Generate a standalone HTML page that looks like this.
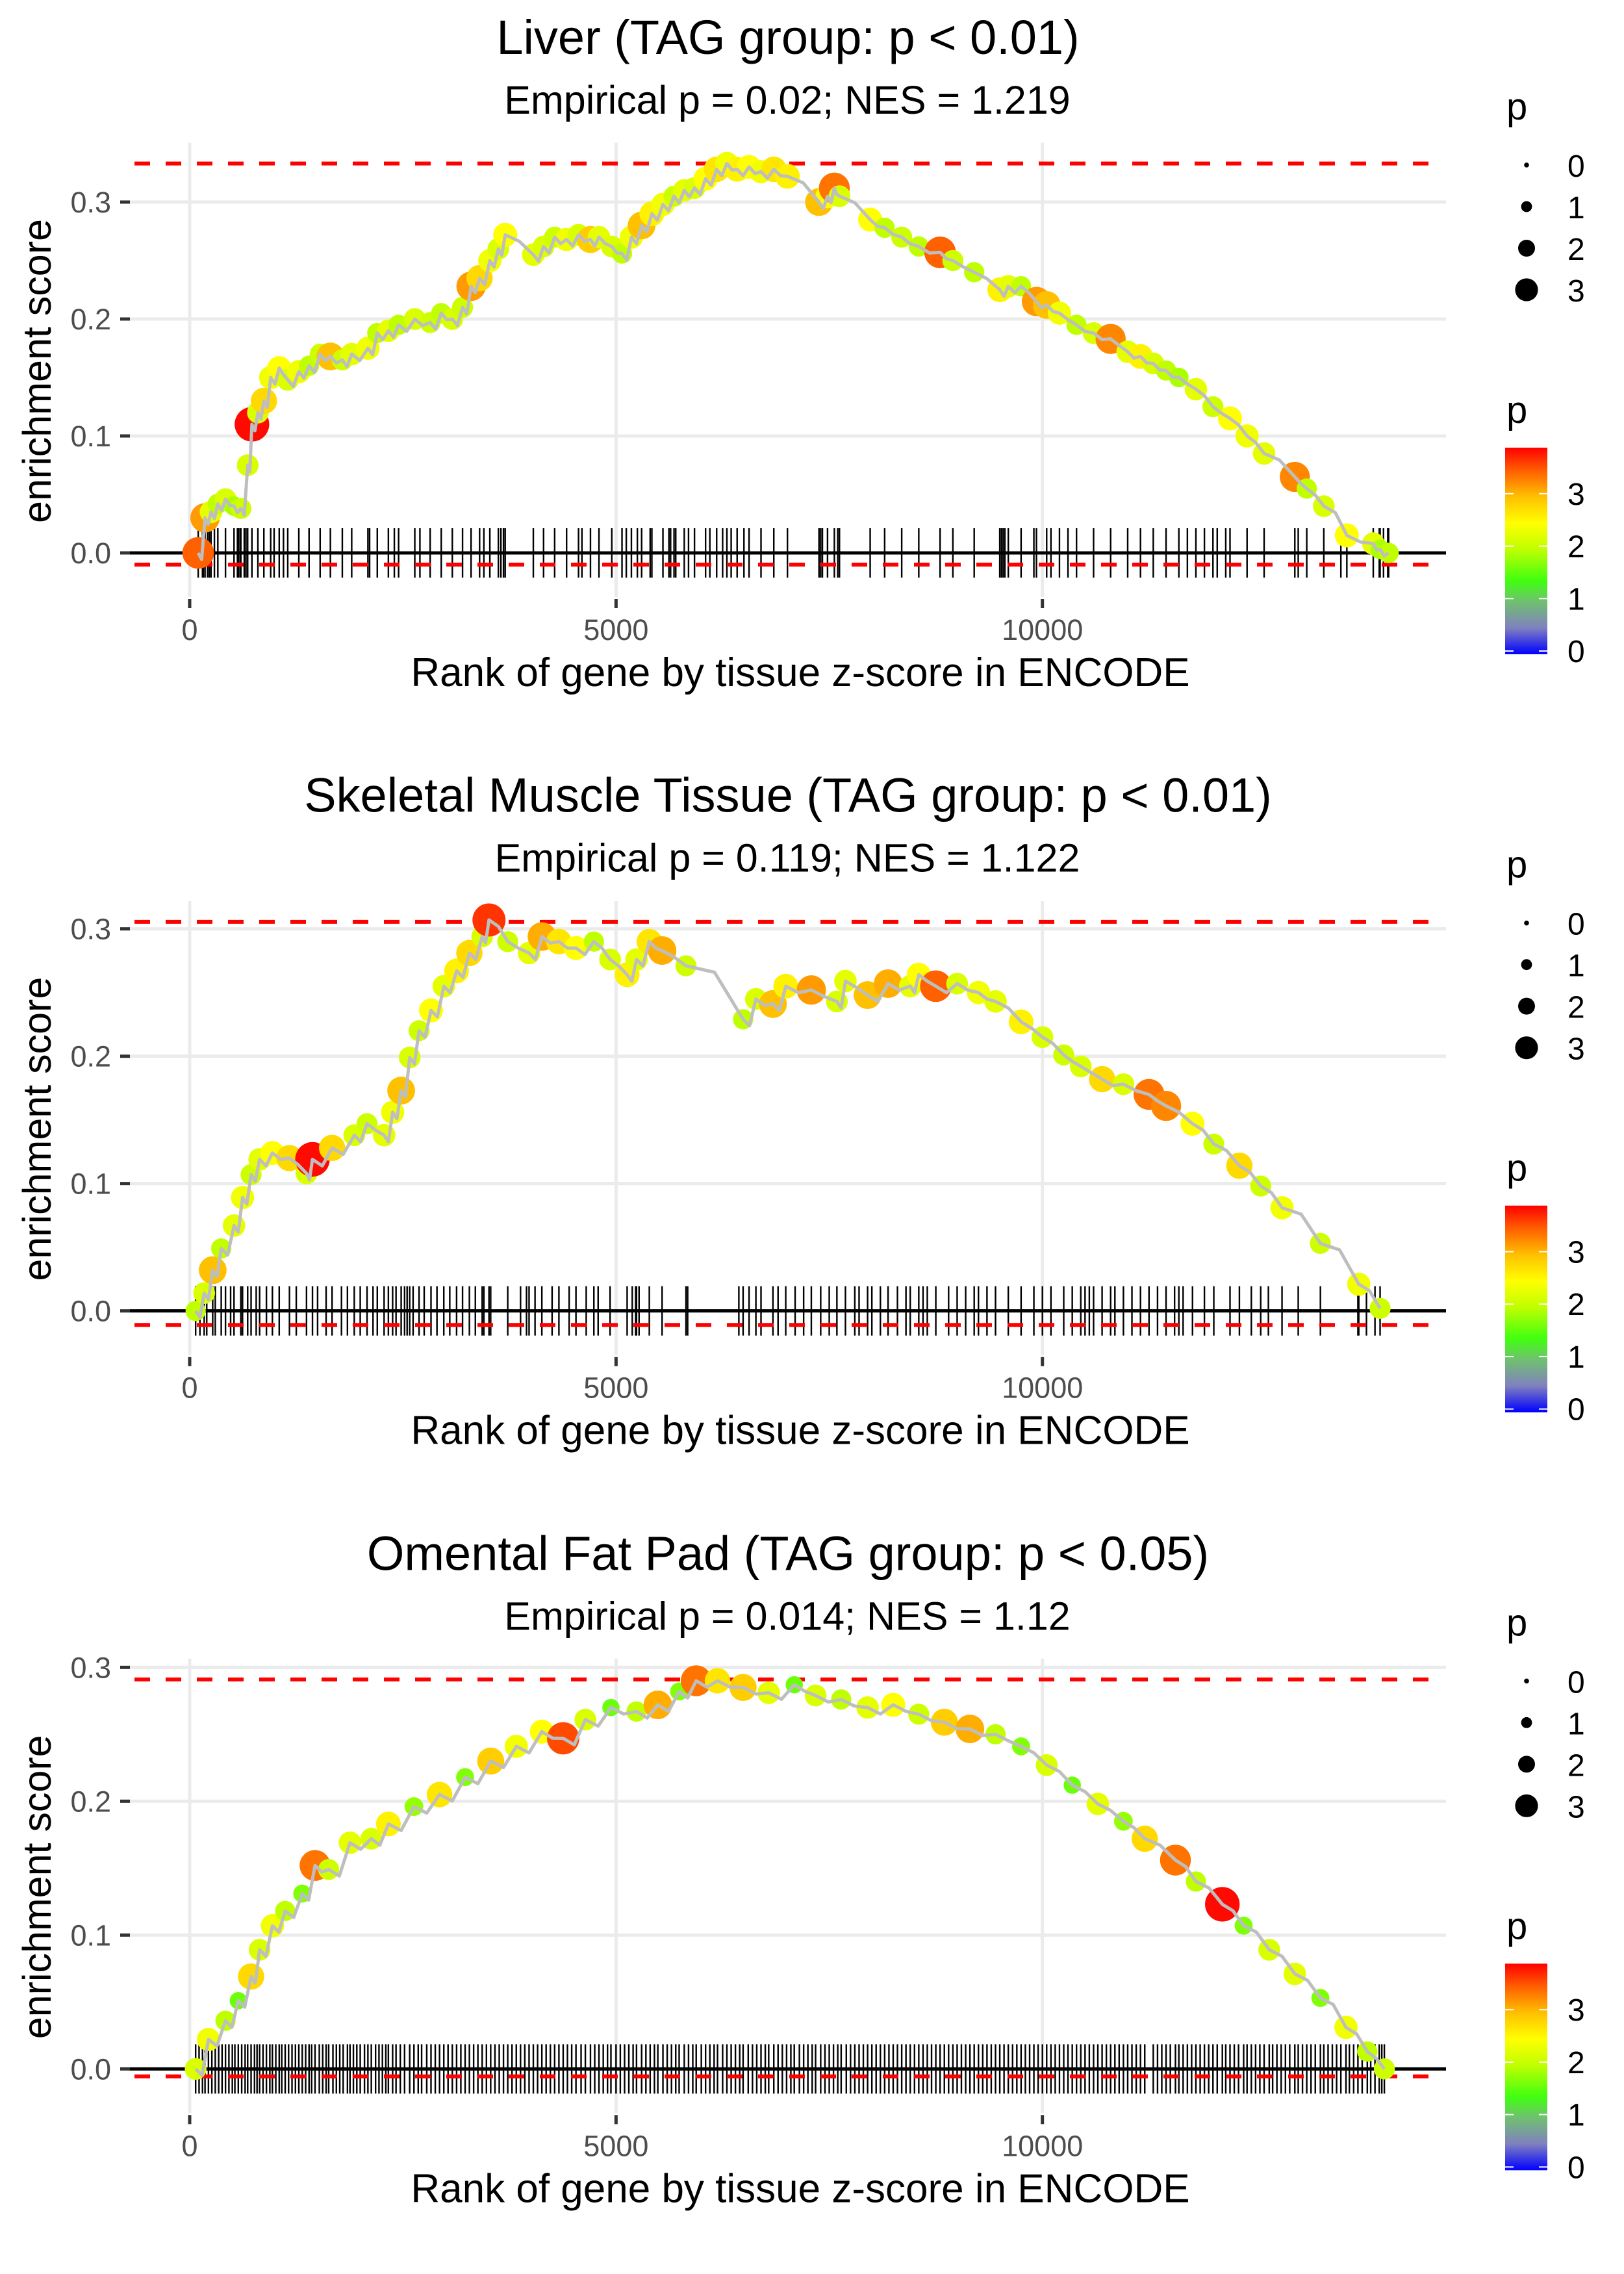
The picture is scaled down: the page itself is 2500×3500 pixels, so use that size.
<!DOCTYPE html>
<html><head><meta charset="utf-8">
<style>
html,body{margin:0;padding:0;background:#fff;}
svg{display:block;font-family:"Liberation Sans",Arial,sans-serif;}
</style></head>
<body>
<svg id="chart" xmlns="http://www.w3.org/2000/svg" width="2500" height="3500" viewBox="0 0 2500 3500">
<defs>
<linearGradient id="pgrad" x1="0" y1="1" x2="0" y2="0">
<stop offset="0" stop-color="#0000ff"/>
<stop offset="0.127" stop-color="#8080c0"/>
<stop offset="0.254" stop-color="#70c070"/>
<stop offset="0.355" stop-color="#40ff10"/>
<stop offset="0.508" stop-color="#c0ff00"/>
<stop offset="0.635" stop-color="#ffff00"/>
<stop offset="0.762" stop-color="#ffc000"/>
<stop offset="0.888" stop-color="#ff6000"/>
<stop offset="1" stop-color="#ff0000"/>
</linearGradient>
</defs>
</svg>
<script>
// ---------- data ----------
const titles = ["Liver (TAG group: p < 0.01)","Skeletal Muscle Tissue (TAG group: p < 0.01)","Omental Fat Pad (TAG group: p < 0.05)"];
const subtitles = ["Empirical p = 0.02; NES = 1.219","Empirical p = 0.119; NES = 1.122","Empirical p = 0.014; NES = 1.12"];
const xTicks = [0,5000,10000];
const xTickLabels = ["0","5000","10000"];
const yTicks = [0,0.1,0.2,0.3];
const yTickLabels = ["0.0","0.1","0.2","0.3"];
const maxES = [0.333,0.3055,0.291];
const minES = [-0.010,-0.011,-0.0056];

const rank1 = [100,180,250,330,420,520,600,680,730,800,870,950,1050,1150,1280,1400,1530,1650,1790,1900,2090,2200,2330,2450,2640,2820,2950,3080,3200,3300,3400,3520,3620,3700,4030,4150,4280,4420,4560,4700,4800,4950,5070,5180,5300,5420,5550,5680,5800,5920,6050,6180,6300,6420,6560,6700,6850,7010,7380,7480,7560,7620,7980,8150,8350,8550,8800,8950,9200,9500,9600,9750,9930,10050,10200,10400,10600,10800,11000,11150,11300,11450,11600,11800,12000,12200,12400,12600,12960,13100,13300,13570,13880,13960,14060];
const es1 = [0.0,0.03,0.035,0.042,0.046,0.04,0.038,0.075,0.11,0.12,0.13,0.15,0.158,0.148,0.155,0.16,0.17,0.168,0.165,0.17,0.175,0.188,0.19,0.195,0.2,0.197,0.205,0.2,0.21,0.228,0.235,0.25,0.26,0.272,0.255,0.262,0.27,0.268,0.272,0.268,0.27,0.262,0.256,0.27,0.28,0.29,0.298,0.305,0.31,0.312,0.32,0.328,0.333,0.328,0.33,0.326,0.328,0.322,0.3,0.305,0.312,0.305,0.285,0.278,0.27,0.262,0.257,0.25,0.24,0.225,0.228,0.228,0.215,0.212,0.205,0.195,0.188,0.183,0.172,0.168,0.162,0.156,0.15,0.14,0.125,0.115,0.1,0.085,0.065,0.055,0.04,0.015,0.008,0.003,0.0];
const p1 = [3.5,3.2,2.3,2.0,2.2,1.9,2.1,2.2,3.9,2.2,2.8,2.4,2.5,2.2,2.4,2.0,2.1,3.0,2.1,2.3,2.4,2.0,2.3,2.0,2.2,2.1,2.0,2.2,2.1,3.2,2.8,2.4,2.2,2.5,2.3,2.2,2.1,2.4,2.2,2.9,2.3,2.2,2.0,2.4,3.0,2.6,2.4,2.1,2.3,2.2,2.5,2.7,2.4,2.6,2.5,2.4,2.7,2.6,3.0,2.5,3.4,2.2,2.5,2.0,2.1,2.0,3.5,2.1,2.0,2.6,2.3,2.0,3.2,3.0,2.4,2.0,2.2,3.3,2.3,2.6,2.2,2.0,1.9,2.3,2.1,2.5,2.4,2.3,3.3,2.0,2.2,2.5,2.3,1.9,2.0];
const rugExtra1 = [150,160,210,230,290,560,570,590,640,660,990,1100,2110,2400,2700,3450,3650,3680,4600,5120,5250,5400,5620,5640,5700,5850,6100,6250,6350,6500,7400,7420,7600,9520,9540,9560,9900,10100,10300,11700,11900,12050,12150,13000,13500,13950,14000,14050];

const rank2 = [70,170,270,370,520,620,720,820,970,1170,1370,1440,1670,1930,2080,2280,2380,2480,2580,2690,2830,2980,3130,3280,3430,3510,3730,3980,4130,4330,4530,4740,4930,5130,5240,5390,5540,5820,6490,6640,6840,6990,7290,7590,7690,7950,8190,8450,8550,8750,9000,9250,9450,9750,10000,10250,10450,10700,10950,11250,11450,11760,12010,12310,12560,12810,13260,13710,13960];
const es2 = [0.0,0.014,0.032,0.049,0.067,0.089,0.107,0.119,0.124,0.12,0.108,0.119,0.128,0.138,0.147,0.138,0.156,0.173,0.199,0.22,0.236,0.255,0.267,0.281,0.294,0.307,0.29,0.281,0.294,0.29,0.285,0.29,0.276,0.264,0.276,0.29,0.283,0.271,0.229,0.245,0.241,0.255,0.252,0.243,0.259,0.248,0.257,0.255,0.264,0.255,0.257,0.25,0.243,0.227,0.215,0.201,0.192,0.182,0.178,0.17,0.161,0.147,0.131,0.114,0.098,0.081,0.053,0.021,0.002];
const p2 = [2.0,2.2,3.0,2.0,2.3,2.4,2.1,2.3,2.5,2.8,2.2,3.9,2.8,2.2,2.1,2.3,2.4,3.0,2.2,2.1,2.5,2.3,2.6,2.8,2.2,3.7,2.1,2.3,3.1,2.7,2.5,2.0,2.2,2.6,2.3,2.7,3.1,2.1,2.0,2.2,3.0,2.6,3.2,2.2,2.3,3.0,3.1,2.3,2.5,3.5,2.2,2.4,2.3,2.6,2.2,2.1,2.2,2.8,2.2,3.4,3.3,2.5,2.1,2.8,2.1,2.4,2.1,2.4,2.1];
const rugExtra2 = [120,200,300,420,480,600,680,780,900,1050,1250,1500,1600,1780,1850,2000,2150,2200,2330,2420,2520,2550,2620,2750,2900,3050,3200,3350,3450,3530,3880,3950,4050,4250,4450,4650,4790,5190,5230,5270,5840,6440,6560,6700,6900,7100,7200,7400,7500,7800,7850,8000,8100,8300,8400,8600,8650,8900,9100,9200,9350,9600,9900,10100,10350,10500,10550,10600,10800,10850,11050,11150,11350,11550,11600,11650,11900,12200,12450,12650,13000,13700,13800,13900];

const rank3 = [70,220,420,570,720,820,970,1120,1320,1470,1630,1880,2130,2330,2630,2930,3230,3530,3830,4130,4380,4640,4940,5240,5490,5740,5940,6190,6490,6790,7090,7340,7640,7950,8250,8550,8850,9150,9450,9750,10050,10350,10650,10950,11200,11560,11800,12110,12360,12660,12960,13260,13560,13810,14010];
const es3 = [0,0.022,0.036,0.051,0.069,0.089,0.107,0.118,0.131,0.152,0.149,0.169,0.172,0.183,0.196,0.205,0.218,0.23,0.241,0.252,0.247,0.261,0.27,0.267,0.272,0.282,0.29,0.29,0.285,0.281,0.287,0.279,0.276,0.27,0.272,0.265,0.259,0.254,0.25,0.241,0.227,0.212,0.198,0.185,0.172,0.156,0.14,0.123,0.107,0.089,0.071,0.053,0.031,0.013,0];
const p3 = [2.2,2.4,2.0,1.6,2.8,2.2,2.4,2.0,1.7,3.4,2.1,2.3,2.2,2.6,1.8,2.7,1.7,2.9,2.4,2.5,3.6,2.2,1.6,2.0,3.1,1.7,3.4,2.7,2.9,2.3,1.6,2.2,2.0,2.3,2.5,2.1,2.9,3.1,2.0,1.7,2.2,1.6,2.3,1.8,2.8,3.4,2.0,3.9,1.7,2.2,2.3,1.7,2.4,2.0,2.1];
const rugExtra3 = [110,150,180,260,300,340,380,460,500,530,610,650,680,760,790,860,900,940,1010,1050,1080,1160,1200,1240,1280,1360,1400,1430,1520,1560,1600,1680,1720,1760,1800,1850,1920,1960,2000,2050,2090,2180,2220,2260,2300,2380,2420,2470,2520,2580,2680,2720,2780,2830,2880,2980,3030,3080,3130,3180,3280,3330,3380,3430,3480,3580,3630,3680,3730,3780,3880,3930,3980,4030,4080,4180,4230,4280,4330,4430,4480,4530,4590,4700,4750,4800,4850,4900,5000,5050,5100,5150,5200,5300,5350,5400,5450,5550,5600,5650,5700,5800,5850,5900,6000,6050,6100,6150,6250,6300,6350,6400,6450,6550,6600,6650,6700,6750,6850,6900,6950,7000,7050,7150,7200,7250,7300,7400,7450,7500,7550,7600,7700,7750,7800,7850,7900,8000,8050,8100,8150,8200,8300,8350,8400,8450,8500,8600,8650,8700,8750,8800,8900,8950,9000,9050,9100,9200,9250,9300,9350,9400,9500,9550,9600,9650,9700,9800,9850,9900,9950,10000,10100,10150,10200,10250,10300,10400,10450,10500,10550,10600,10700,10750,10800,10850,10900,11000,11050,11100,11150,11300,11350,11400,11450,11500,11600,11650,11700,11750,11850,11900,11950,12000,12050,12150,12200,12250,12300,12400,12450,12500,12550,12600,12700,12750,12800,12850,12900,13000,13050,13100,13150,13200,13300,13350,13400,13450,13500,13600,13650,13700,13750,13850,13900,13950,13980];

const ranks = [rank1, rank2, rank3];
const esVals = [es1, es2, es3];
const pVals = [p1, p2, p3];
const rugExtras = [rugExtra1, rugExtra2, rugExtra3];
const legendSizes = [0,1,2,3];
const colorbarTicks = [0,1,2,3];

// ---------- layout ----------
const svg = document.getElementById('chart');
const NS = 'http://www.w3.org/2000/svg';
const PANEL_H = 3500/3;
const PX0 = 200, PX1 = 2226;
const zeroY = [851, 851 + PANEL_H, 851 + 2*PANEL_H];
const unitY = [1800, 1960, 2060];
const pMax = 3.94;

function xs(r){ return 292 + r * 0.13127; }
function make(tag, attrs, parent){
  const el = document.createElementNS(NS, tag);
  for (const k in attrs) el.setAttribute(k, attrs[k]);
  (parent || svg).appendChild(el);
  return el;
}
const stops = [[0,[0,0,255]],[0.5,[128,128,192]],[1,[112,192,112]],[1.4,[64,255,16]],[2,[192,255,0]],[2.5,[255,255,0]],[3,[255,192,0]],[3.5,[255,96,0]],[3.94,[255,0,0]]];
function pColor(p){
  if (p <= stops[0][0]) return 'rgb(0,0,255)';
  for (let i=1;i<stops.length;i++){
    if (p <= stops[i][0]){
      const a=stops[i-1], b=stops[i], t=(p-a[0])/(b[0]-a[0]);
      const c=a[1].map((v,j)=>Math.round(v+(b[1][j]-v)*t));
      return 'rgb('+c.join(',')+')';
    }
  }
  return 'rgb(255,0,0)';
}
function pRadius(p){ return 4 + 5.8*p; }
function legendRadius(p){ return 3.8 + 4.6*p; }

for (let k=0;k<3;k++){
  const off = k*PANEL_H;
  const z = zeroY[k], u = unitY[k];
  const ys = v => z - v*u;
  const g = make('g', {});
  
  

  let t = make('text', {x:1213, y:83+off, 'font-size':74, 'text-anchor':'middle', fill:'#000'}, g);
  t.textContent = titles[k];
  
  
  t = make('text', {x:1212, y:175+off, 'font-size':61, 'text-anchor':'middle', fill:'#000'}, g);
  t.textContent = subtitles[k];
  
  

  const gridTop = ys(maxES[k]) - 32;
  const gridBot = z + 68;
  for (let i=0;i<yTicks.length;i++){
    const l = make('line', {x1:PX0, x2:PX1, y1:ys(yTicks[i]), y2:ys(yTicks[i]), stroke:'#ebebeb', 'stroke-width':5}, g);
    
    
  }
  for (let i=0;i<xTicks.length;i++){
    const l = make('line', {x1:xs(xTicks[i]), x2:xs(xTicks[i]), y1:gridTop, y2:gridBot, stroke:'#ebebeb', 'stroke-width':5}, g);
    
    
  }
  for (let i=0;i<yTicks.length;i++){
    const tk = make('line', {x1:185, x2:200, y1:ys(yTicks[i]), y2:ys(yTicks[i]), stroke:'#333', 'stroke-width':5}, g);
    
    
    const lb = make('text', {x:171, y:ys(yTicks[i])+16, 'font-size':45, 'text-anchor':'end', fill:'#4d4d4d'}, g);
    lb.textContent = yTickLabels[i];
    
    
  }
  for (let i=0;i<xTicks.length;i++){
    const tk = make('line', {x1:xs(xTicks[i]), x2:xs(xTicks[i]), y1:z+71, y2:z+85, stroke:'#333', 'stroke-width':5}, g);
    
    
    const lb = make('text', {x:xs(xTicks[i]), y:z+134, 'font-size':45, 'text-anchor':'middle', fill:'#4d4d4d'}, g);
    lb.textContent = xTickLabels[i];
    
    
  }
  t = make('text', {x:1232, y:z+205, 'font-size':62, 'text-anchor':'middle', fill:'#000'}, g);
  t.textContent = 'Rank of gene by tissue z-score in ENCODE';
  
  
  t = make('text', {x:0, y:0, 'font-size':61, 'text-anchor':'middle', fill:'#000', transform:'translate(78,'+(z-280)+') rotate(-90)'}, g);
  t.textContent = 'enrichment score';
  
  

  let l = make('line', {x1:PX0, x2:PX1, y1:z, y2:z, stroke:'#000', 'stroke-width':5}, g);
  
  
  const allR = ranks[k].concat(rugExtras[k]);
  for (let i=0;i<allR.length;i++){
    const r = make('line', {x1:xs(allR[i]), x2:xs(allR[i]), y1:z-38, y2:z+38, stroke:'#000', 'stroke-width':2.4}, g);
    
    
  }
  l = make('line', {x1:PX0+7, x2:PX1-10, y1:ys(maxES[k]), y2:ys(maxES[k]), stroke:'#ff0000', 'stroke-width':6, 'stroke-dasharray':'24 24'}, g);
  
  
  l = make('line', {x1:PX0+7, x2:PX1-10, y1:ys(minES[k]), y2:ys(minES[k]), stroke:'#ff0000', 'stroke-width':6, 'stroke-dasharray':'24 24'}, g);
  
  

  const R = ranks[k], E = esVals[k], P = pVals[k];
  for (let i=0;i<R.length;i++){
    const c = make('circle', {cx:xs(R[i]), cy:ys(E[i]), r:pRadius(P[i]), fill:pColor(P[i])}, g);
    
    
  }
  let d = '';
  for (let i=0;i<R.length;i++){
    d += (i? 'L':'M') + xs(R[i]).toFixed(1) + ',' + ys(E[i]).toFixed(1);
    if (i < R.length-1){
      const xm = (xs(R[i]) + xs(R[i+1]))/2;
      d += 'L' + xm.toFixed(1) + ',' + (ys(E[i]) + 10).toFixed(1);
    }
  }
  const path = make('path', {d:d, fill:'none', stroke:'#bebebe', 'stroke-width':5, 'stroke-linejoin':'round'}, g);
  
  

  t = make('text', {x:2319, y:184+off, 'font-size':58, fill:'#000'}, g);
  t.textContent = 'p';
  
  
  for (let i=0;i<legendSizes.length;i++){
    const cy = 254 + i*64 + off;
    const c = make('circle', {cx:2350, cy:cy, r:legendRadius(legendSizes[i]), fill:'#000'}, g);
    
    
    const lb = make('text', {x:2413, y:cy+18, 'font-size':48, fill:'#000'}, g);
    lb.textContent = String(legendSizes[i]);
    
    
  }
  t = make('text', {x:2319, y:651+off, 'font-size':58, fill:'#000'}, g);
  t.textContent = 'p';
  
  
  const barTop = 689+off, barBot = 1007+off;
  const bar = make('rect', {x:2317, y:barTop, width:65, height:barBot-barTop, fill:'url(#pgrad)'}, g);
  
  
  for (let i=0;i<colorbarTicks.length;i++){
    const ty = barBot - (colorbarTicks[i]/pMax)*(barBot-barTop) - 5;
    const a = make('line', {x1:2317, x2:2330, y1:ty, y2:ty, stroke:'#fff', 'stroke-width':2}, g);
    
    
    const b = make('line', {x1:2369, x2:2382, y1:ty, y2:ty, stroke:'#fff', 'stroke-width':2}, g);
    
    
    const lb = make('text', {x:2413, y:ty+17, 'font-size':48, fill:'#000'}, g);
    lb.textContent = String(colorbarTicks[i]);
    
    
  }
}
</script>
</body></html>
